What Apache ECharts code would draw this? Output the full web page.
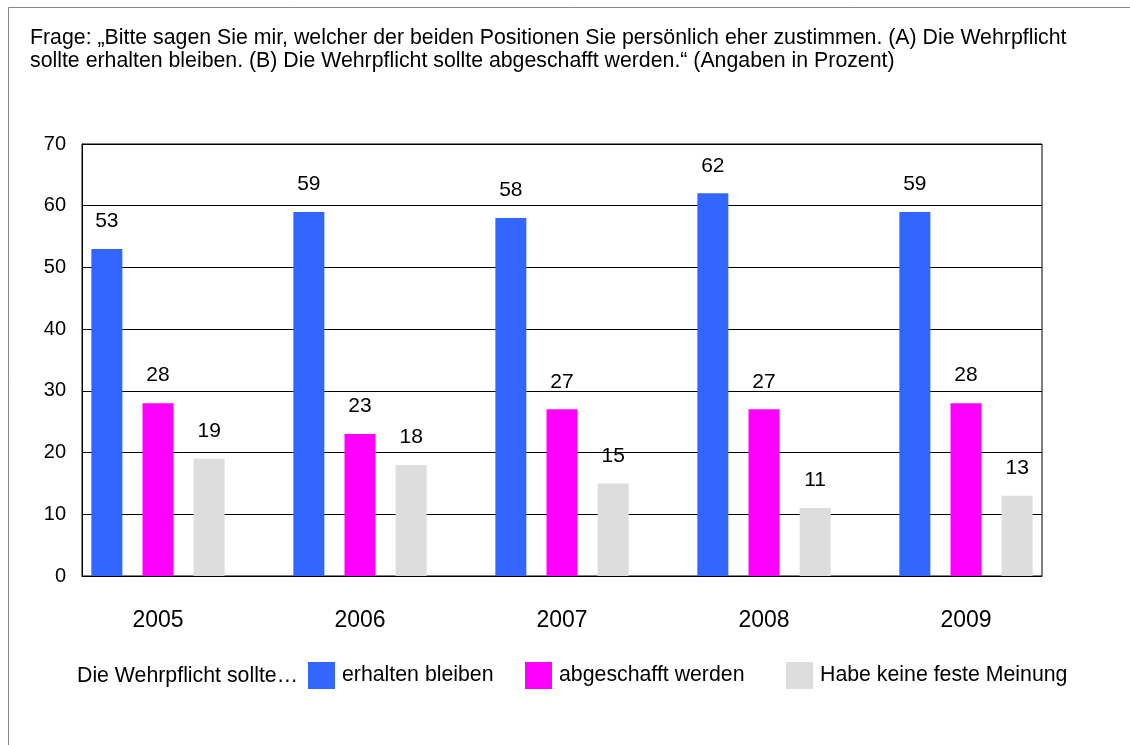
<!DOCTYPE html>
<html>
<head>
<meta charset="utf-8">
<script src="https://cdn.jsdelivr.net/npm/echarts@6/dist/echarts.min.js"></script>
<style>
html,body{margin:0;padding:0;background:#fff;}
#c{width:1130px;height:745px;}
</style>
</head>
<body>
<div id="c"></div>
<script>
var years = ['2005', '2006', '2007', '2008', '2009'];
var seriesNames = ['erhalten bleiben', 'abgeschafft werden', 'Habe keine feste Meinung'];
var erhalten = [53, 59, 58, 62, 59];
var abgeschafft = [28, 23, 27, 27, 28];
var keineMeinung = [19, 18, 15, 11, 13];
var yTicks = [0, 10, 20, 30, 40, 50, 60, 70];
var colors = ['#3366FF', '#FF00FF', '#DDDDDD'];
var titleText = 'Frage: \u201EBitte sagen Sie mir, welcher der beiden Positionen Sie pers\u00F6nlich eher zustimmen. (A) Die Wehrpflicht\nsollte erhalten bleiben. (B) Die Wehrpflicht sollte abgeschafft werden.\u201C (Angaben in Prozent)';
var legendLead = 'Die Wehrpflicht sollte\u2026';

var FONT = '"Liberation Sans", Arial, sans-serif';
var chart = echarts.init(document.getElementById('c'), null, {renderer: 'canvas'});

var values = [erhalten, abgeschafft, keineMeinung];
var series = seriesNames.map(function (n, i) {
  return {
    name: n,
    type: 'bar',
    xAxisIndex: 1,
    yAxisIndex: 1,
    data: values[i],
    barWidth: 31,
    barGap: '65%',
    itemStyle: {color: colors[i]},
    label: {
      show: true,
      position: 'top',
      distance: 17,
      color: '#000',
      fontSize: 21,
      fontFamily: FONT
    }
  };
});

var legendLefts = [308, 525, 786];
var legends = seriesNames.map(function (n, i) {
  return {
    data: [n],
    left: legendLefts[i],
    top: 662,
    padding: 0,
    icon: 'rect',
    itemWidth: 27,
    itemHeight: 27,
    itemGap: 0,
    selectedMode: false,
    textStyle: {fontSize: 21.3, color: '#000', fontFamily: FONT, padding: [0, 0, 0, 2]}
  };
});

var option = {
  animation: false,
  backgroundColor: '#fff',
  textStyle: {fontFamily: FONT},
  legend: legends,
  grid: [
    {left: 82, top: 144, width: 960, height: 432, show: true, borderColor: '#000', borderWidth: 1, backgroundColor: 'transparent'},
    {left: 57, top: 144, width: 1010, height: 432}
  ],
  xAxis: [
    {type: 'category', gridIndex: 0, data: years, axisLine: {show: true, lineStyle: {color: '#000'}}, axisTick: {show: false}, axisLabel: {show: false}, splitLine: {show: false}},
    {type: 'category', gridIndex: 1, data: years, axisLine: {show: false}, axisTick: {show: false}, splitLine: {show: false},
      axisLabel: {color: '#000', fontSize: 23, fontFamily: FONT, margin: 33}}
  ],
  yAxis: [
    {type: 'value', gridIndex: 0, min: yTicks[0], max: yTicks[yTicks.length - 1], interval: 10,
      axisLine: {show: true, lineStyle: {color: '#000'}}, axisTick: {show: false},
      splitLine: {show: true, lineStyle: {color: '#000', width: 1}},
      axisLabel: {color: '#000', fontSize: 20, fontFamily: FONT, margin: 16}},
    {type: 'value', gridIndex: 1, min: yTicks[0], max: yTicks[yTicks.length - 1], interval: 10, show: false,
      splitLine: {show: false}}
  ],
  graphic: [
    {type: 'rect', silent: true, z: -1,
      shape: {x: 8.5, y: 7.5, width: 1200, height: 800},
      style: {fill: 'none', stroke: '#888', lineWidth: 1}},
    {type: 'text', x: 30, y: 27,
      style: {text: titleText, lineHeight: 22.5, fill: '#000', font: '21.3px ' + FONT, textVerticalAlign: 'top'}},
    {type: 'text', x: 77, y: 676,
      style: {text: legendLead, fill: '#000', font: '21.3px ' + FONT, textVerticalAlign: 'middle'}}
  ],
  series: series
};
chart.setOption(option);
</script>
</body>
</html>
